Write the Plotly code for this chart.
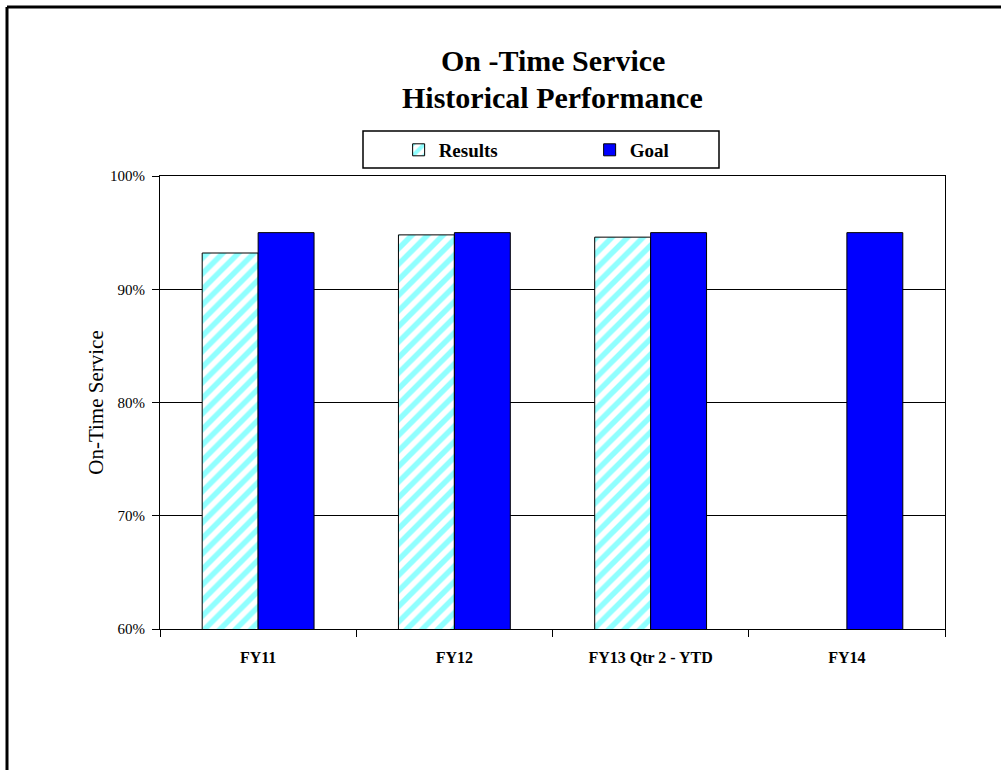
import plotly.graph_objects as go

# Fiscal-year categories and on-time service percentages
categories = ["FY11", "FY12", "FY13 Qtr 2 - YTD", "FY14"]
results = [0.932, 0.948, 0.946, None]
goal = [0.95, 0.95, 0.95, 0.95]
y_ticks = [0.6, 0.7, 0.8, 0.9, 1.0]
y_tick_labels = ["60%", "70%", "80%", "90%", "100%"]

SERIF = "Liberation Serif, Times New Roman, serif"

fig = go.Figure()

fig.add_trace(go.Bar(
    name="Results",
    x=categories,
    y=results,
    marker=dict(
        color="white",
        line=dict(color="black", width=1),
        pattern=dict(shape="/", fgcolor="#22FFFF", bgcolor="white",
                     size=11, solidity=0.5, fillmode="overlay"),
    ),
))

fig.add_trace(go.Bar(
    name="Goal",
    x=categories,
    y=goal,
    marker=dict(color="#0000FF", line=dict(color="black", width=1)),
))

fig.update_layout(
    width=1001,
    height=770,
    margin=dict(l=160, r=56, t=176, b=141),
    paper_bgcolor="white",
    plot_bgcolor="white",
    barmode="group",
    bargap=0.43,
    bargroupgap=0,
    font=dict(family=SERIF, color="black"),
    showlegend=True,
    legend=dict(
        orientation="h",
        x=0.304,
        xanchor="left",
        y=1.0575,
        yanchor="middle",
        bgcolor="rgba(0,0,0,0)",
        borderwidth=0,
        font=dict(family=SERIF, size=19, color="black", weight="bold"),
        entrywidth=146,
        traceorder="normal",
    ),
    xaxis=dict(
        type="category",
        showline=True,
        linecolor="black",
        linewidth=1,
        mirror=True,
        ticks="outside",
        tickson="boundaries",
        ticklen=7,
        tickcolor="black",
        tickfont=dict(family=SERIF, size=16, color="black", weight="bold"),
        ticklabelstandoff=14,
        showgrid=False,
    ),
    yaxis=dict(
        range=[0.6, 1.0],
        tickvals=y_ticks,
        ticktext=y_tick_labels,
        showline=True,
        linecolor="black",
        linewidth=1,
        mirror=True,
        ticks="outside",
        ticklen=7,
        tickcolor="black",
        tickfont=dict(family=SERIF, size=15, color="black"),
        ticklabelstandoff=4,
        showgrid=True,
        gridcolor="black",
        gridwidth=1,
        zeroline=False,
        title=dict(text="On-Time Service",
                   font=dict(family=SERIF, size=21, color="black"),
                   standoff=0),
    ),
    shapes=[
        # legend frame
        dict(type="rect", xref="paper", yref="paper",
             x0=(363 - 160) / 785, x1=(719 - 160) / 785,
             y0=(629 - 168) / 453, y1=(629 - 131) / 453,
             line=dict(color="black", width=1.5), fillcolor="rgba(0,0,0,0)"),
        # outer frame, left and top edges
        dict(type="line", xref="paper", yref="paper",
             x0=(7 - 160) / 785, x1=(7 - 160) / 785,
             y0=(629 - 7) / 453, y1=(629 - 780) / 453,
             line=dict(color="black", width=3)),
        dict(type="line", xref="paper", yref="paper",
             x0=(7 - 160) / 785, x1=(1010 - 160) / 785,
             y0=(629 - 7) / 453, y1=(629 - 7) / 453,
             line=dict(color="black", width=3)),
    ],
    annotations=[
        dict(text="<b>On -Time Service</b>", xref="paper", yref="paper",
             x=0.5, y=(629 - 60) / 453, xanchor="center", yanchor="middle",
             showarrow=False, font=dict(family=SERIF, size=30, color="black")),
        dict(text="<b>Historical Performance</b>", xref="paper", yref="paper",
             x=0.5, y=(629 - 97) / 453, xanchor="center", yanchor="middle",
             showarrow=False, font=dict(family=SERIF, size=30, color="black")),
    ],
)

fig.write_html("out.html")
